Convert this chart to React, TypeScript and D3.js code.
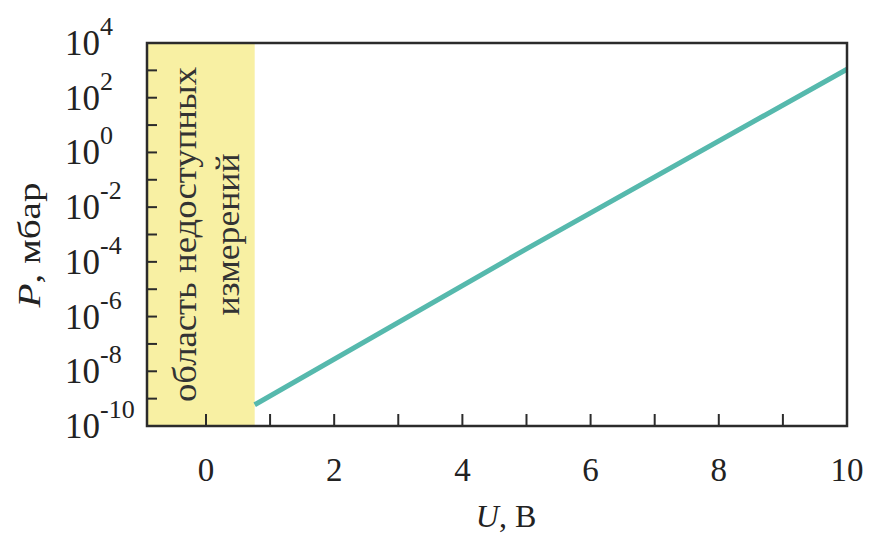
import React from "react";
import * as d3 from "d3";

// Pressure vs. voltage readings along the calibration line
const voltage = [0.76, 5, 10];
const pressure = [6.0e-10, 3.0e-4, 1.1e3];

// Region where measurement is not possible
const blindZone = [-0.92, 0.76];

const xTicks = [0, 1, 2, 3, 4, 5, 6, 7, 8, 9, 10];
const xTickLabels = [0, 2, 4, 6, 8, 10];
const yTickExponents = [-9, -8, -7, -6, -5, -4, -3, -2, -1, 0, 1, 2, 3];
const yLabelExponents = [4, 2, 0, -2, -4, -6, -8, -10];

const W = 872;
const H = 535;
const left = 147;
const right = 847;
const top = 43;
const bottom = 426;

const FONT = "'Liberation Serif', 'Times New Roman', serif";
const AXIS = "#2b2b2b";

export default function App() {
  const x = d3.scaleLinear().domain([-0.92, 10]).range([left, right]);
  const y = d3.scaleLog().domain([1e-10, 1e4]).range([bottom, top]);

  const pts = voltage.map((v, i) => [v, pressure[i]] as [number, number]);
  const line = d3
    .line<[number, number]>()
    .x((d) => x(d[0]))
    .y((d) => y(d[1]));

  const midY = (top + bottom) / 2;

  return (
    <svg
      width={W}
      height={H}
      style={{ position: "absolute", left: 0, top: 0, background: "#fff" }}
      fontFamily={FONT}
    >
      <rect
        x={x(blindZone[0])}
        y={top}
        width={x(blindZone[1]) - x(blindZone[0])}
        height={bottom - top}
        fill="#f8f0a3"
      />
      <g fill="#333" fontSize={33}>
        <text
          transform={`translate(${196},${midY}) rotate(-90)`}
          textAnchor="middle"
          textLength={335}
          lengthAdjust="spacingAndGlyphs"
        >
          область недоступных
        </text>
        <text
          transform={`translate(${239},${midY}) rotate(-90)`}
          textAnchor="middle"
          textLength={162}
          lengthAdjust="spacingAndGlyphs"
        >
          измерений
        </text>
      </g>

      <path
        d={line(pts) ?? ""}
        fill="none"
        stroke="#56b9ad"
        strokeWidth={5}
      />

      {/* inner ticks on the bottom and left axes */}
      <g stroke={AXIS} strokeWidth={2}>
        {xTicks.map((t) => (
          <line key={`xt${t}`} x1={x(t)} x2={x(t)} y1={bottom} y2={bottom - 12} />
        ))}
        {yTickExponents.map((e) => (
          <line
            key={`yt${e}`}
            x1={left}
            x2={left + 10}
            y1={y(Math.pow(10, e))}
            y2={y(Math.pow(10, e))}
          />
        ))}
      </g>

      <rect
        x={left}
        y={top}
        width={right - left}
        height={bottom - top}
        fill="none"
        stroke={AXIS}
        strokeWidth={2.5}
      />

      <g fontSize={33} fill="#222" textAnchor="middle">
        {xTickLabels.map((t) => (
          <text key={`xl${t}`} x={x(t)} y={481}>
            {t}
          </text>
        ))}
      </g>

      <g fill="#222">
        {yLabelExponents.map((e) => (
          <text key={`yl${e}`} x={65} y={y(Math.pow(10, e)) + 12} fontSize={35}>
            10
            <tspan dy={-20} fontSize={26}>
              {e}
            </tspan>
          </text>
        ))}
      </g>

      <text
        x={506}
        y={527}
        fontSize={32}
        fill="#222"
        textAnchor="middle"
      >
        <tspan fontStyle="italic">U</tspan>, В
      </text>

      <text
        transform={`translate(${40},${245}) rotate(-90)`}
        fontSize={32}
        fill="#222"
        textAnchor="middle"
        textLength={125}
        lengthAdjust="spacingAndGlyphs"
      >
        <tspan fontStyle="italic">P</tspan>, мбар
      </text>
    </svg>
  );
}
